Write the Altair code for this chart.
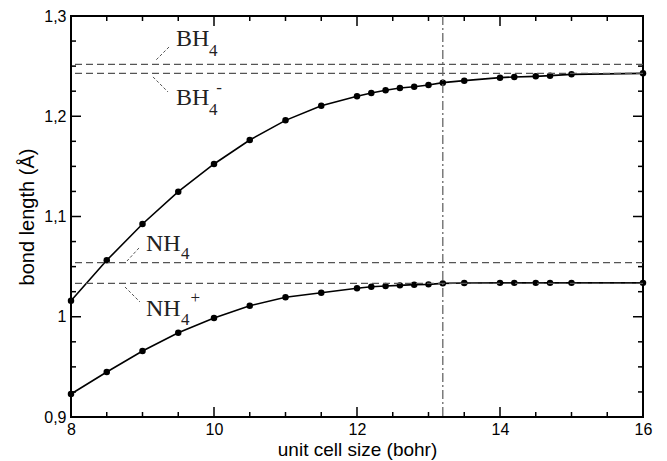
import altair as alt
import pandas as pd

# ---------------- data ----------------
cell_size = [8, 8.5, 9, 9.5, 10, 10.5, 11, 11.5, 12, 12.2, 12.4, 12.6, 12.8,
             13.0, 13.2, 13.5, 14, 14.2, 14.5, 14.7, 15, 16]
bh4_minus = [1.016, 1.0563, 1.0925, 1.1248, 1.1524, 1.1763, 1.1959, 1.2105,
             1.2199, 1.2232, 1.2259, 1.2282, 1.2295, 1.2312, 1.2335, 1.2355,
             1.2385, 1.2392, 1.2398, 1.2405, 1.2418, 1.2428]
nh4_plus = [0.9229, 0.9449, 0.9658, 0.9841, 0.9988, 1.011, 1.0194, 1.024,
            1.0284, 1.0300, 1.0307, 1.0313, 1.032, 1.0323, 1.0333, 1.0337,
            1.0338, 1.0338, 1.0338, 1.0338, 1.0338, 1.0338]
ref_names = ["BH4", "BH4-", "NH4", "NH4+"]
ref_values = [1.2518, 1.2428, 1.0539, 1.0333]
chosen_cell = [13.2]

x_major = [8, 10, 12, 14, 16]
x_minor = [8.5, 9, 9.5, 10.5, 11, 11.5, 12.5, 13, 13.5, 14.5, 15, 15.5]
y_major = [0.9, 1.0, 1.1, 1.2, 1.3]
y_minor = [0.925, 0.95, 0.975, 1.025, 1.05, 1.075, 1.125, 1.15, 1.175,
           1.225, 1.25, 1.275]

# annotation labels (main text, subscript, superscript) in data coordinates
lab_main = ["BH", "BH", "NH", "NH"]
lab_main_x = [9.468, 9.468, 9.049, 9.049]
lab_main_y = [1.2701, 1.2112, 1.0659, 1.0007]
lab_sub_x = [9.93, 9.93, 9.54, 9.54]
lab_sub_y = [1.2601, 1.2012, 1.0576, 0.9918]
lab_sup = ["-", "+"]
lab_sup_x = [10.07, 9.737]
lab_sup_y = [1.2282, 1.0187]
lead_x1 = [9.371, 9.147, 8.951, 8.755]
lead_y1 = [1.2691, 1.2392, 1.0686, 1.0297]
lead_x2 = [9.175, 9.357, 8.783, 8.965]
lead_y2 = [1.2551, 1.2242, 1.0556, 1.0147]

# ---------------- chart ----------------
W, H = 572, 401
xs = alt.Scale(domain=[8, 16], nice=False, zero=False)
ys = alt.Scale(domain=[0.9, 1.3], nice=False, zero=False)

x_axis = alt.Axis(values=x_major, ticks=False, domain=False, grid=False,
                  labelPadding=4, labelFontSize=16, labelFont="Liberation Sans",
                  labelColor="black", labelFlush=False, labelOverlap=False,
                  title="unit cell size (bohr)", titleFontSize=19,
                  titleFont="Liberation Sans", titleFontWeight="normal",
                  titleColor="black", titlePadding=3)
y_axis = alt.Axis(values=y_major, ticks=False, domain=False, grid=False,
                  labelExpr="datum.value == 1 ? '1' : replace(format(datum.value, '.1f'), '.', ',')",
                  labelPadding=5, labelFontSize=16, labelFont="Liberation Sans",
                  labelColor="black", labelOverlap=False,
                  title="bond length (Å)", titleFontSize=20,
                  titleFont="Liberation Sans", titleFontWeight="normal",
                  titleColor="black", titlePadding=6)


def X(field):
    return alt.X(field, scale=xs, axis=x_axis)


def Y(field):
    return alt.Y(field, scale=ys, axis=y_axis)


curves = pd.DataFrame({
    "size": cell_size * 2,
    "length": bh4_minus + nh4_plus,
    "series": ["BH4-"] * len(cell_size) + ["NH4+"] * len(cell_size),
})

lines = alt.Chart(curves).mark_line(color="black", strokeWidth=1.6).encode(
    x=X("size:Q"), y=Y("length:Q"), detail="series:N",
)
points = alt.Chart(curves).mark_circle(color="black", size=42, opacity=1).encode(
    x=X("size:Q"), y=Y("length:Q"),
)

refs = alt.Chart(pd.DataFrame({"name": ref_names, "v": ref_values})).mark_rule(
    color="#555555", strokeWidth=1.3, strokeDash=[7, 4]
).encode(y=Y("v:Q"))

vline = alt.Chart(pd.DataFrame({"c": chosen_cell})).mark_rule(
    color="#666666", strokeWidth=1.3, strokeDash=[9, 3, 2, 3]
).encode(x=X("c:Q"))


def tick_layer(values, channel, length, side):
    df = pd.DataFrame({"v": values})
    m = alt.Chart(df).mark_rule(color="black", strokeWidth=1.5)
    if channel == "x":
        if side == "bottom":
            return m.encode(x=X("v:Q"), y=alt.value(H), y2=alt.value(H - length))
        return m.encode(x=X("v:Q"), y=alt.value(0), y2=alt.value(length))
    if side == "left":
        return m.encode(y=Y("v:Q"), x=alt.value(0), x2=alt.value(length))
    return m.encode(y=Y("v:Q"), x=alt.value(W), x2=alt.value(W - length))


ticks = []
for side in ["bottom", "top"]:
    ticks.append(tick_layer(x_major, "x", 10, side))
    ticks.append(tick_layer(x_minor, "x", 5, side))
for side in ["left", "right"]:
    ticks.append(tick_layer(y_major, "y", 10, side))
    ticks.append(tick_layer(y_minor, "y", 5, side))

main_df = pd.DataFrame({"t": lab_main, "x": lab_main_x, "y": lab_main_y})
sub_df = pd.DataFrame({"t": ["4"] * 4, "x": lab_sub_x, "y": lab_sub_y})
sup_df = pd.DataFrame({"t": lab_sup, "x": lab_sup_x, "y": lab_sup_y})
lead_df = pd.DataFrame({"x": lead_x1, "y": lead_y1, "x2": lead_x2, "y2": lead_y2})

main_txt = alt.Chart(main_df).mark_text(
    font="Liberation Serif", fontSize=24, align="left", baseline="alphabetic",
    color="#222222"
).encode(x=X("x:Q"), y=Y("y:Q"), text="t:N")
sub_txt = alt.Chart(sub_df).mark_text(
    font="Liberation Serif", fontSize=17, align="left", baseline="alphabetic",
    color="#222222"
).encode(x=X("x:Q"), y=Y("y:Q"), text="t:N")
sup_txt = alt.Chart(sup_df).mark_text(
    font="Liberation Serif", fontSize=17, align="center", baseline="middle",
    color="#222222"
).encode(x=X("x:Q"), y=Y("y:Q"), text="t:N")
leaders = alt.Chart(lead_df).mark_rule(
    color="#555555", strokeWidth=1, strokeDash=[3, 2]
).encode(x=X("x:Q"), y=Y("y:Q"), x2="x2:Q", y2="y2:Q")

chart = alt.layer(
    lines, points, refs, vline, leaders, main_txt, sub_txt, sup_txt, *ticks
).properties(
    width=W, height=H, autosize="none", background="white",
    padding={"left": 63, "top": 8, "right": 16, "bottom": 44},
).configure_view(stroke="black", strokeWidth=2)

chart.save("out.html", embed_options={"renderer": "svg", "actions": False})
